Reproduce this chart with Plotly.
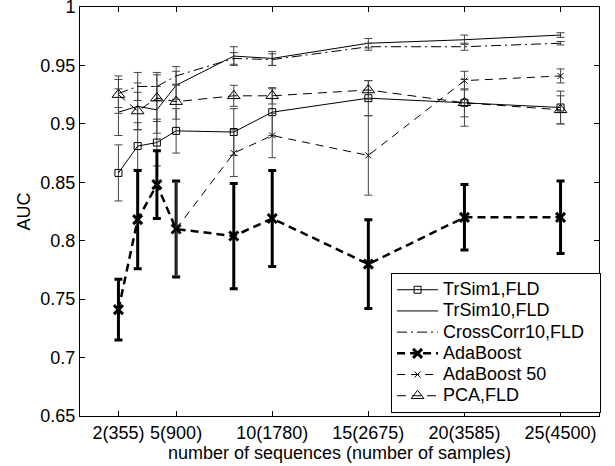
import plotly.graph_objects as go

x_all = [2, 3, 4, 5, 8, 10, 15, 20, 25]
tick_vals = [2, 5, 10, 15, 20, 25]
tick_text = ["2(355)", "5(900)", "10(1780)", "15(2675)", "20(3585)", "25(4500)"]

series_names = ["TrSim1,FLD", "TrSim10,FLD", "CrossCorr10,FLD", "AdaBoost", "AdaBoost 50", "PCA,FLD"]

trsim1 = [0.858, 0.881, 0.884, 0.894, 0.893, 0.910, 0.922, 0.918, 0.914]
trsim1_err = [0.024, 0.020, 0.020, 0.019, 0.020, 0.020, 0.015, 0.020, 0.014]

trsim10 = [0.910, 0.915, 0.912, 0.933, 0.958, 0.956, 0.969, 0.972, 0.976]
trsim10_err = [0.020, 0.020, 0.020, 0.012, 0.008, 0.006, 0.004, 0.004, 0.002]

crosscorr10 = [0.926, 0.932, 0.932, 0.941, 0.956, 0.955, 0.966, 0.966, 0.969]
crosscorr10_err = [0.012, 0.012, 0.012, 0.008, 0.005, 0.005, 0.003, 0.003, 0.0015]

adaboost = [0.741, 0.818, 0.848, 0.810, 0.804, 0.819, 0.780, 0.820, 0.820]
adaboost_err = [0.026, 0.042, 0.029, 0.041, 0.045, 0.041, 0.038, 0.028, 0.031]

x_ada50 = [5, 8, 10, 15, 20, 25]
adaboost50 = [0.810, 0.875, 0.890, 0.873, 0.937, 0.941]
adaboost50_err = [0.040, 0.020, 0.019, 0.034, 0.008, 0.006]

pca = [0.925, 0.911, 0.922, 0.919, 0.924, 0.924, 0.929, 0.918, 0.912]
pca_err = [0.016, 0.016, 0.020, 0.015, 0.009, 0.007, 0.008, 0.012, 0.012]

y_ticks = [0.65, 0.7, 0.75, 0.8, 0.85, 0.9, 0.95, 1.0]
y_ticktext = ["0.65", "0.7", "0.75", "0.8", "0.85", "0.9", "0.95", "1"]

FONT = "Liberation Sans, Arial, Helvetica, sans-serif"
ERRC = "#444444"

def lname(s):
    return '<span style="font-size:18px">' + s + '&nbsp;&nbsp;</span>'

def thin_err(arr):
    return dict(type="data", array=arr, visible=True, color=ERRC, thickness=1, width=4)

fig = go.Figure()

fig.add_trace(go.Scatter(
    x=x_all, y=trsim1, name=lname(series_names[0]), mode="lines+markers",
    line=dict(color="black", width=1),
    marker=dict(symbol="square-open", size=7, color="black", line=dict(width=1, color="black")),
    error_y=thin_err(trsim1_err)))

fig.add_trace(go.Scatter(
    x=x_all, y=trsim10, name=lname(series_names[1]), mode="lines",
    line=dict(color="black", width=1),
    error_y=thin_err(trsim10_err)))

fig.add_trace(go.Scatter(
    x=x_all, y=crosscorr10, name=lname(series_names[2]), mode="lines",
    line=dict(color="black", width=1, dash="10px,4px,2px,4px"),
    error_y=thin_err(crosscorr10_err)))

fig.add_trace(go.Scatter(
    x=x_all, y=adaboost, name=lname(series_names[3]), mode="lines+markers",
    line=dict(color="black", width=2.5, dash="8px,5px"),
    marker=dict(symbol="x-thin-open", size=9, color="black", line=dict(width=3, color="black")),
    error_y=dict(type="data", array=adaboost_err, visible=True, color="black", thickness=3, width=4)))

fig.add_trace(go.Scatter(
    x=x_ada50, y=adaboost50, name=lname(series_names[4]), mode="lines+markers",
    line=dict(color="black", width=1, dash="8px,6px"),
    marker=dict(symbol="x-thin-open", size=6, color="black", line=dict(width=1, color="black")),
    error_y=thin_err(adaboost50_err)))

fig.add_trace(go.Scatter(
    x=x_all, y=pca, name=lname(series_names[5]), mode="lines+markers",
    line=dict(color="black", width=1, dash="9px,6px"),
    marker=dict(symbol="triangle-up-open", size=11, color="black", line=dict(width=1, color="black")),
    error_y=thin_err(pca_err)))

fig.update_layout(
    width=615, height=466,
    margin=dict(l=80, r=16, t=7, b=50, autoexpand=False),
    paper_bgcolor="white", plot_bgcolor="white",
    font=dict(family=FONT, size=18, color="black"),
    showlegend=True,
    legend=dict(
        x=1.004, xanchor="right", y=0.007, yanchor="bottom",
        bgcolor="white", bordercolor="black", borderwidth=1,
        font=dict(family=FONT, size=14, color="black"),
        tracegroupgap=0, itemwidth=41,
    ),
)

fig.update_xaxes(
    range=[0, 27], tickmode="array", tickvals=tick_vals, ticktext=tick_text,
    ticks="inside", ticklen=5, tickcolor="black", tickwidth=1,
    showline=True, linecolor="black", linewidth=1, mirror="ticks",
    showgrid=False, zeroline=False, automargin=False, ticklabeloverflow="allow",
    tickfont=dict(family=FONT, size=18, color="black"),
    title=dict(text="number of sequences (number of samples)", standoff=0,
               font=dict(family=FONT, size=18, color="black")),
)

fig.update_yaxes(
    range=[0.65, 1.0], tickmode="array", tickvals=y_ticks, ticktext=y_ticktext,
    ticks="inside", ticklen=5, tickcolor="black", tickwidth=1,
    showline=True, linecolor="black", linewidth=1, mirror="ticks",
    showgrid=False, zeroline=False, automargin=False, ticklabeloverflow="allow",
    tickfont=dict(family=FONT, size=18, color="black"),
    title=dict(text="AUC", standoff=5, font=dict(family=FONT, size=18, color="black")),
)

fig.write_html("out.html", config={"displayModeBar": False},
               post_script="document.body.style.margin='0';document.body.style.padding='0';")
